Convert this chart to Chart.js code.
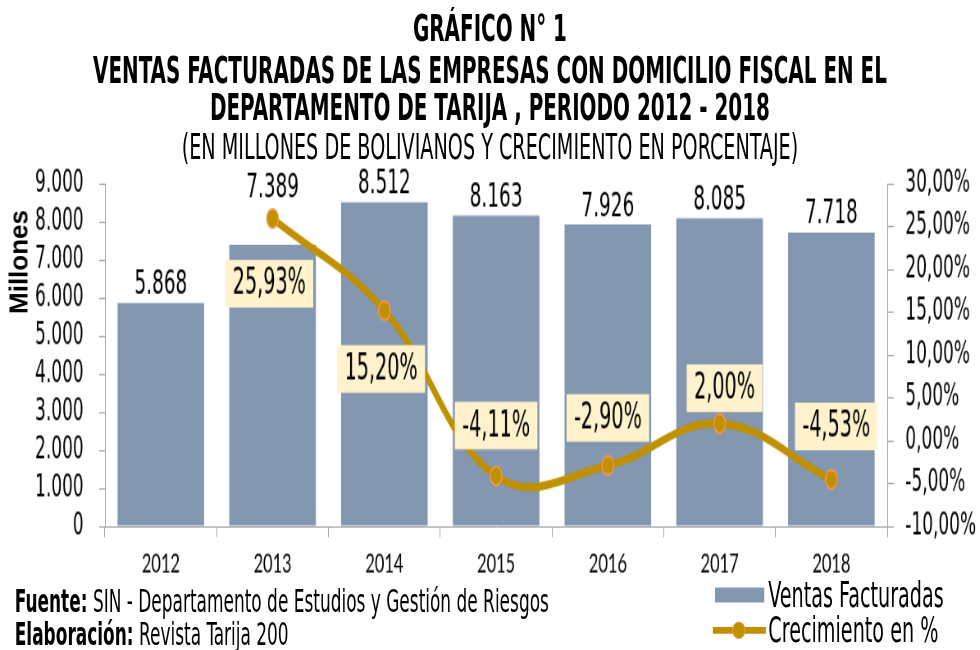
<!DOCTYPE html>
<html>
<head>
<meta charset="utf-8">
<script src="https://cdn.jsdelivr.net/npm/chart.js@4.4.1/dist/chart.umd.min.js"></script>
<style>
  html, body { margin: 0; padding: 0; background: #fff; }
  body { width: 980px; height: 650px; position: relative; overflow: hidden; }
  /* el original tiene letras angostas y altas: se dibuja en 1195x478 y se escala */
  #lienzo { position: absolute; left: 0; top: 0; width: 1195px; height: 478px; transform: scale(0.82, 1.36); transform-origin: 0 0; }
  #lienzo canvas { position: absolute; left: 0; top: 0; }
  .txt { position: absolute; font-family: 'DejaVu Sans Condensed', sans-serif; color: #000; white-space: nowrap; }
  .tit { left: 0; width: 1195px; text-align: center; font-weight: bold; font-size: 27px; line-height: 30px; }
  .sub { left: 0; width: 1195px; text-align: center; font-size: 26px; line-height: 30px; }
  .pie { left: 18px; font-size: 23px; line-height: 26px; }
  .ley { left: 937px; font-size: 26px; line-height: 28px; }
  #millones { position: absolute; left: 19px; top: 262px; transform: translate(-50%, -50%) rotate(-90deg);
    font-family: 'Liberation Sans', Arial, sans-serif; font-weight: bold; font-size: 26px; white-space: nowrap; }
</style>
</head>
<body>
<div id="lienzo">
  <canvas id="grafico" width="1195" height="478"></canvas>
  <div class="txt tit" style="top:6px">GRÁFICO N° 1</div>
  <div class="txt tit" style="top:37px">VENTAS FACTURADAS DE LAS EMPRESAS CON DOMICILIO FISCAL EN EL</div>
  <div class="txt tit" style="top:64px">DEPARTAMENTO DE TARIJA , PERIODO 2012 - 2018</div>
  <div class="txt sub" style="top:93px">(EN MILLONES DE BOLIVIANOS Y CRECIMIENTO EN PORCENTAJE)</div>
  <div class="txt pie" style="top:429px"><b>Fuente:</b> SIN - Departamento de Estudios y Gestión de Riesgos</div>
  <div class="txt pie" style="top:453px"><b>Elaboración:</b> Revista Tarija 200</div>
  <div style="position:absolute;left:872px;top:432px;width:60px;height:11px;background:#8497B0"></div>
  <div class="txt ley" style="top:423px">Ventas Facturadas</div>
  <div style="position:absolute;left:869px;top:461px;width:65px;height:5px;background:#BF9000"></div>
  <div style="position:absolute;left:893px;top:457px;width:14px;height:11px;border-radius:50%;background:#BF9000;border:1px solid #F79646"></div>
  <div class="txt ley" style="top:449px">Crecimiento en %</div>
</div>
<div id="millones">Millones</div>
<script>
// datos del gráfico
const anios = ['2012', '2013', '2014', '2015', '2016', '2017', '2018'];
const ventas = [5868, 7389, 8512, 8163, 7926, 8085, 7718];          // millones de Bs
const crecimiento = [null, 25.93, 15.20, -4.11, -2.90, 2.00, -4.53]; // %

// desplazamiento de las etiquetas (px)
const elevarVentas = [13, 42, 13, 13, 13, 13, 13];
const despCrec = [[0, 0], [-4, 48], [-4, 43], [0, -37], [0, -35], [6, -26], [6, -39]];

const fuenteAngosta = "'DejaVu Sans Condensed', sans-serif";

function miles(v) {
  return String(v).replace(/\B(?=(\d{3})+(?!\d))/g, '.');
}
function porc(v) {
  return v.toFixed(2).replace('.', ',') + '%';
}

const etiquetas = {
  id: 'etiquetas',
  afterDatasetsDraw(chart) {
    const ctx = chart.ctx;
    ctx.save();
    ctx.textAlign = 'center';
    ctx.textBaseline = 'middle';
    ctx.font = '25px ' + fuenteAngosta;
    ctx.fillStyle = '#000';
    chart.getDatasetMeta(1).data.forEach((bar, i) => {
      ctx.fillText(miles(ventas[i]), bar.x, bar.y - elevarVentas[i]);
    });
    ctx.font = '26px ' + fuenteAngosta;
    chart.getDatasetMeta(0).data.forEach((pt, i) => {
      if (crecimiento[i] === null) return;
      const t = porc(crecimiento[i]);
      const cx = pt.x + despCrec[i][0];
      const cy = pt.y + despCrec[i][1];
      const w = ctx.measureText(t).width + 18;
      const h = 35;
      ctx.fillStyle = '#FFF2CC';
      ctx.fillRect(cx - w / 2, cy - h / 2, w, h);
      ctx.fillStyle = '#000';
      ctx.fillText(t, cx, cy + 1);
    });
    ctx.restore();
  }
};

const ctx = document.getElementById('grafico');
const grafico = new Chart(ctx, {
  type: 'bar',
  data: {
    labels: anios,
    datasets: [{
      type: 'line',
      label: 'Crecimiento en %',
      data: crecimiento,
      yAxisID: 'y1',
      order: 0,
      borderColor: '#BF9000',
      borderWidth: 6,
      tension: 0.4,
      pointRadius: 7,
      pointBorderWidth: 1.5,
      pointBorderColor: '#F79646',
      pointBackgroundColor: '#BF9000',
      clip: false
    }, {
      label: 'Ventas Facturadas',
      data: ventas,
      yAxisID: 'y',
      order: 1,
      backgroundColor: '#8497B0',
      categoryPercentage: 1,
      barPercentage: 0.775
    }]
  },
  options: {
    responsive: false,
    animation: false,
    layout: { padding: { top: 135, bottom: 41, left: 0, right: 0 } },
    plugins: {
      legend: { display: false },
      tooltip: { enabled: false },
      title: { display: false }
    },
    scales: {
      x: {
        grid: { offset: true, drawOnChartArea: false, tickLength: 8, color: '#A6A6A6' },
        border: { color: '#A6A6A6' },
        ticks: { color: '#000', font: { family: 'Lato', size: 20 }, padding: 8 },
        afterFit(s) { s.height = 50; }
      },
      y: {
        position: 'left',
        min: 0,
        max: 9000,
        grid: { drawOnChartArea: false, tickLength: 7, color: '#A6A6A6' },
        border: { color: '#A6A6A6' },
        ticks: { stepSize: 1000, autoSkip: false, color: '#000', font: { family: fuenteAngosta, size: 23 }, padding: 19, callback: v => miles(v) },
        afterFit(s) { s.width = 128; }
      },
      y1: {
        position: 'right',
        min: -10,
        max: 30,
        grid: { drawOnChartArea: false, tickLength: 8, color: '#A6A6A6' },
        border: { color: '#A6A6A6' },
        ticks: { stepSize: 5, autoSkip: false, color: '#000', font: { family: fuenteAngosta, size: 23 }, padding: 14, callback: v => porc(v) },
        afterFit(s) { s.width = 113; }
      }
    }
  },
  plugins: [etiquetas]
});
</script>
</body>
</html>
